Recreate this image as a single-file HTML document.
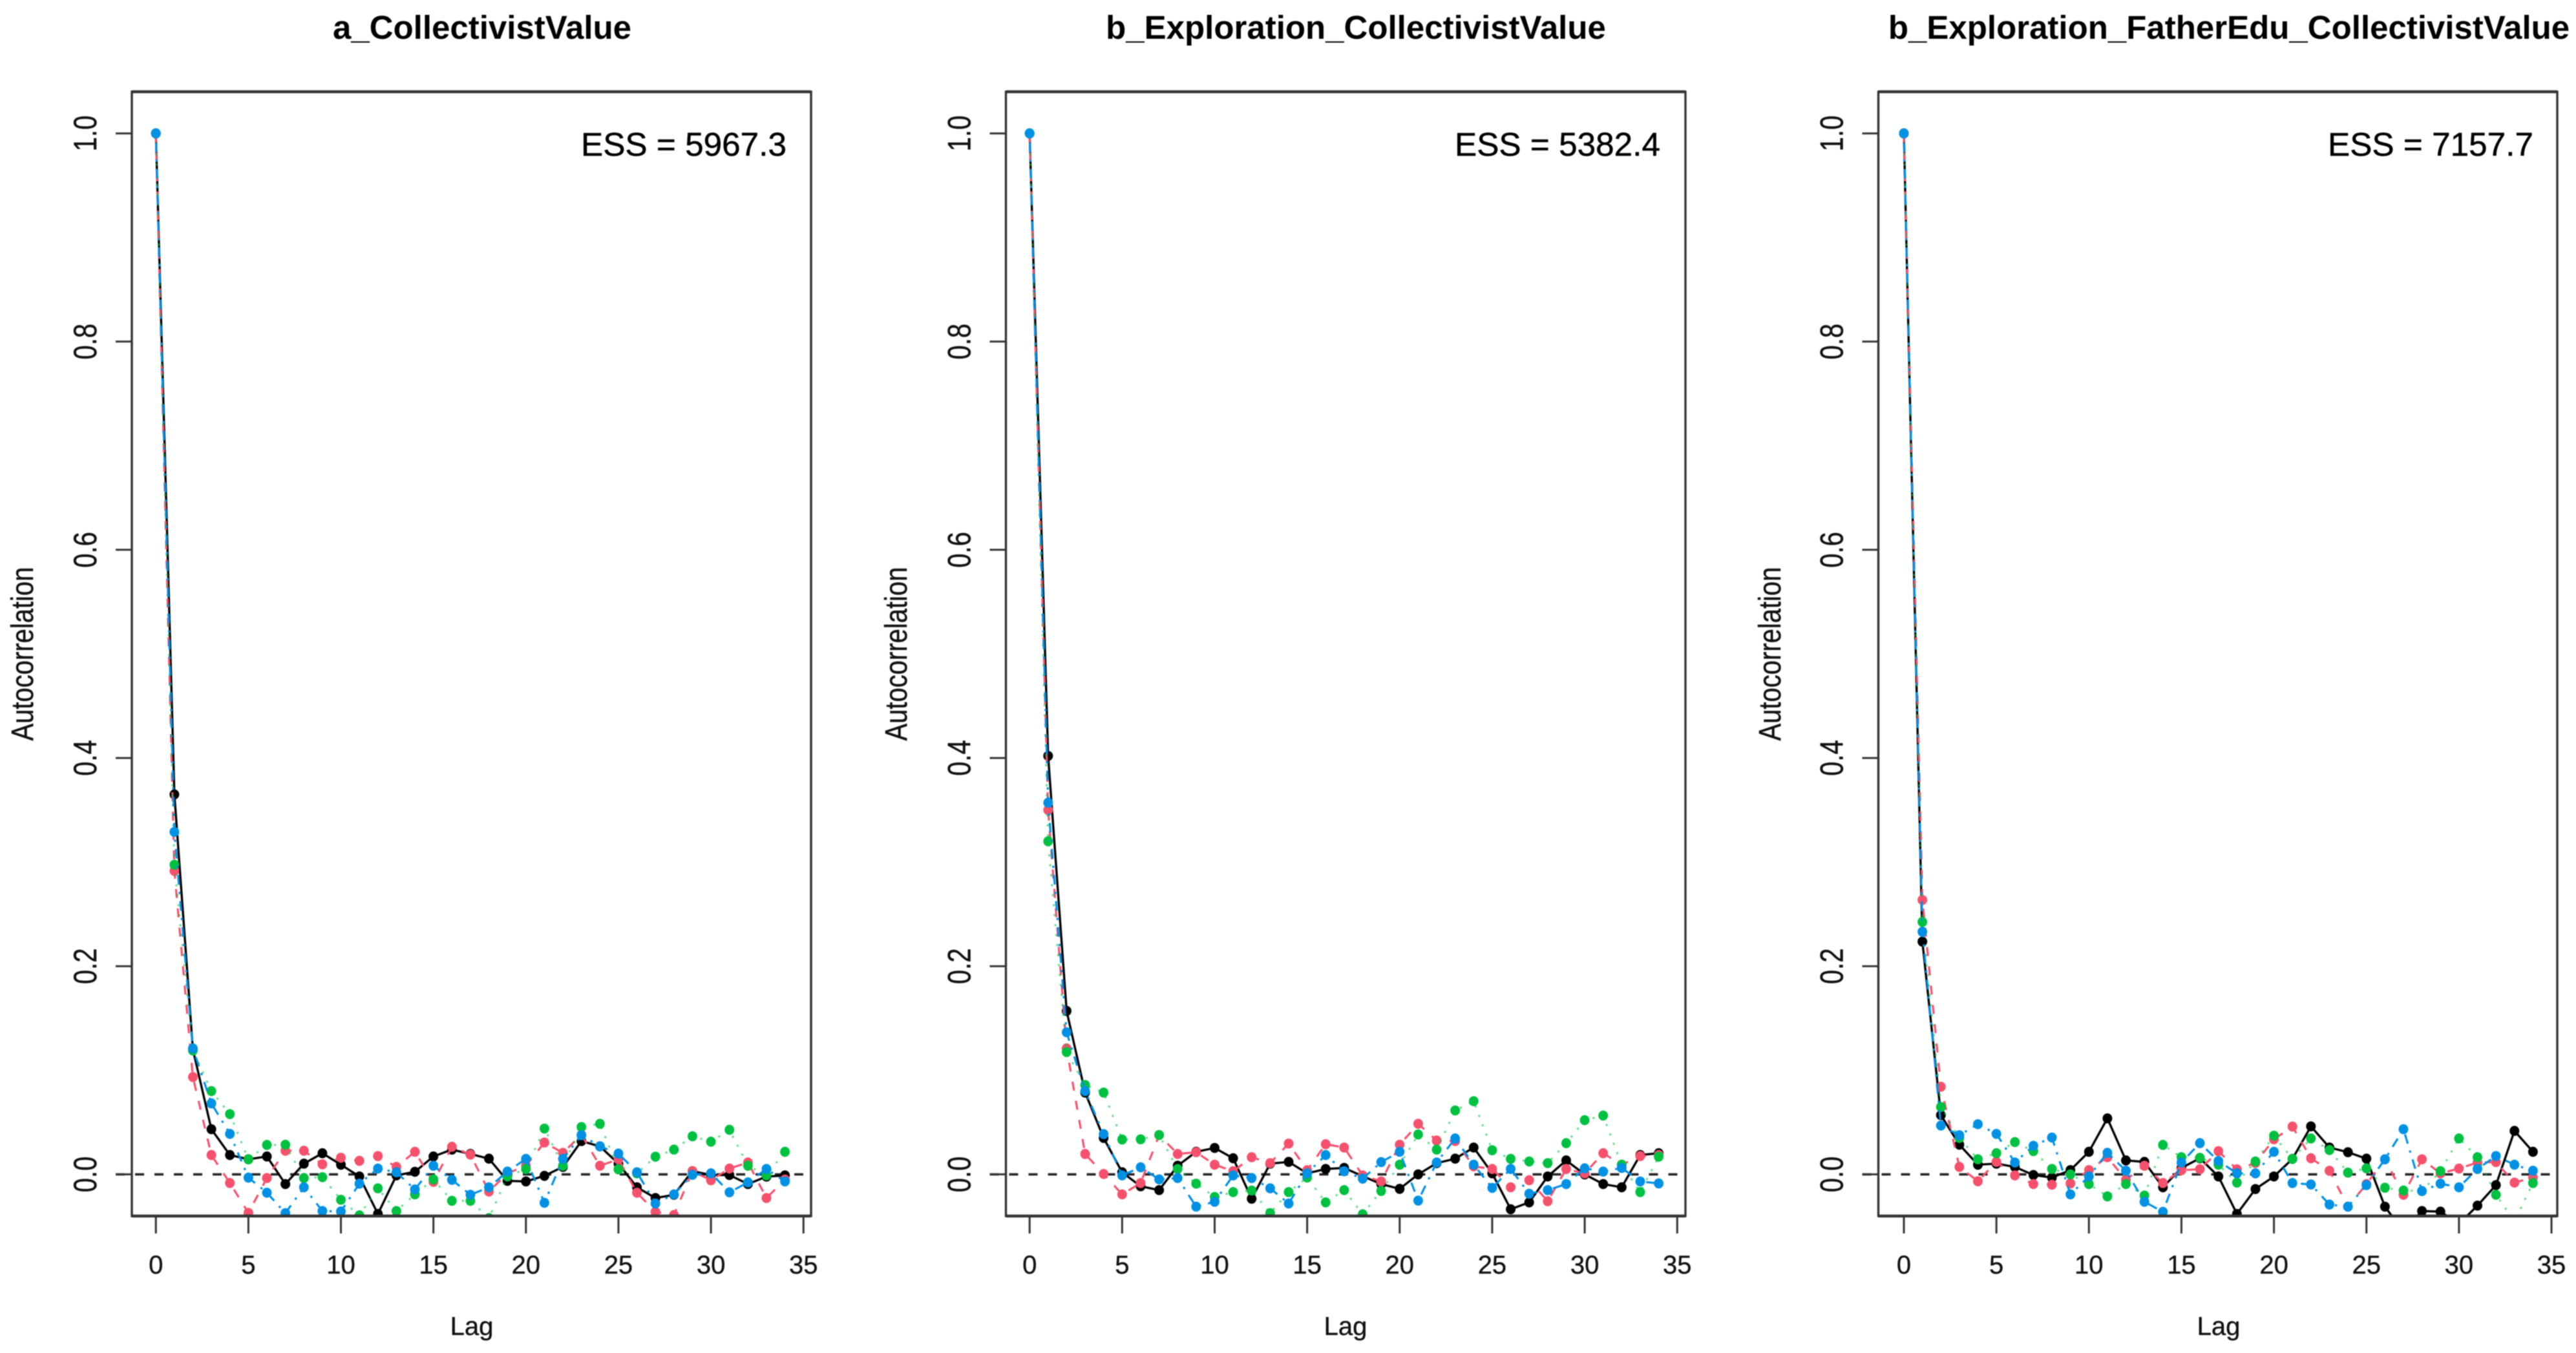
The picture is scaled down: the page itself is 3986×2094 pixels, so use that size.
<!DOCTYPE html>
<html lang="en">
<head>
<meta charset="utf-8">
<title>Autocorrelation plots</title>
<style>
  html, body { margin: 0; padding: 0; background: #ffffff; }
  body { width: 3986px; height: 2094px; overflow: hidden; }
  svg { display: block; filter: blur(0.7px); }
  text { font-family: "Liberation Sans", Arial, sans-serif; fill: #111; }
  .title { font-size: 51px; font-weight: bold; text-anchor: middle; fill: #000; }
  .ess { font-size: 51.3px; text-anchor: end; fill: #000; stroke: #000; stroke-width: 0.5px; }
  .axis-title { font-size: 40px; text-anchor: middle; fill: #111; stroke: #111; stroke-width: 0.4px; }
  .tick-label { font-size: 40px; text-anchor: middle; fill: #111; stroke: #111; stroke-width: 0.4px; }
</style>
</head>
<body>
<svg id="chart" xmlns="http://www.w3.org/2000/svg" width="3986" height="2094" viewBox="0 0 3986 2094">
  <rect x="0" y="0" width="3986" height="2094" fill="#ffffff"/>

  <text class="title" x="746" y="60">a_CollectivistValue</text>
  <text class="title" x="2098" y="60">b_Exploration_CollectivistValue</text>
  <text class="title" x="3449" y="60">b_Exploration_FatherEdu_CollectivistValue</text>

  <text class="ess" x="1217" y="241">ESS = 5967.3</text>
  <text class="ess" x="2569" y="241">ESS = 5382.4</text>
  <text class="ess" x="3920" y="241">ESS = 7157.7</text>

  <text class="axis-title" x="730" y="2066">Lag</text>
  <text class="axis-title" x="2082" y="2066">Lag</text>
  <text class="axis-title" x="3433" y="2066">Lag</text>

  <text class="axis-title" transform="translate(51,1012) rotate(-90) scale(1,1.2)">Autocorrelation</text>
  <text class="axis-title" transform="translate(1403,1012) rotate(-90) scale(1,1.2)">Autocorrelation</text>
  <text class="axis-title" transform="translate(2755,1012) rotate(-90) scale(1,1.2)">Autocorrelation</text>

  <g id="plots"></g>
</svg>

<script>
// ---- chart data: autocorrelation by lag (lags 0..34), four chains per panel ----
const xTickLabels = [0, 5, 10, 15, 20, 25, 30, 35];
const yTickLabels = ["0.0", "0.2", "0.4", "0.6", "0.8", "1.0"];
const yTickValues = [0, 0.2, 0.4, 0.6, 0.8, 1];
const chainNames = ["chain-1", "chain-2", "chain-3", "chain-4"];

const panelAChain1 = [1,.365,.12,.0434,.0186,.0145,.0172,-.0093,.0103,.0203,.0093,-.002,-.038,-.001,.0025,.0172,.0238,.0196,.0151,-.0062,-.0068,-.0014,.0072,.032,.0269,.0103,-.0124,-.0227,-.0196,.0031,-.0006,-.0006,-.0093,-.0021,-.001];
const panelAChain2 = [1,.2915,.0935,.0186,-.0083,-.037,-.0035,.0227,.0227,.0097,.016,.013,.0176,.0072,.0217,-.0072,.0265,.019,-.0165,.001,.0083,.0306,.0207,.038,.0083,.0145,-.0176,-.036,-.039,.003,-.0056,.0056,.0114,-.0227,-.005];
const panelAChain3 = [1,.2975,.119,.08,.0579,.0145,.0283,.0285,-.0035,-.0027,-.0244,-.0393,-.0134,-.0352,-.0192,-.0048,-.0254,-.0254,-.042,-.002,.0052,.044,.0083,.0455,.0486,.0048,.001,.017,.0238,.0366,.0314,.0428,.0083,-.001,.0217];
const panelAChain4 = [1,.329,.121,.0682,.0389,-.0031,-.0176,-.0372,-.0124,-.0352,-.0356,-.0089,.0056,.002,-.0145,.0083,-.0052,-.0196,-.0124,.0027,.0149,-.0273,.0149,.0376,.0269,.02,.002,-.028,-.0192,-.0004,.001,-.0172,-.0077,.0052,-.0068];

const panelBChain1 = [1,.402,.157,.0786,.035,.002,-.0114,-.0151,.0083,.0217,.0254,.0155,-.0234,.0103,.012,.001,.0052,.0062,-.0017,-.0093,-.0139,0,.0108,.0151,.0258,.001,-.0335,-.0269,-.002,.0134,0,-.0093,-.0124,.0186,.0203];
const panelBChain2 = [1,.35,.121,.0196,.0004,-.0192,-.0083,.0378,.0196,.0213,.0093,.003,.0165,.0108,.0296,.004,.029,.0258,-.001,-.0068,.0285,.0486,.0325,.032,.0077,.0052,-.0124,-.0056,-.0258,.0052,.001,.0203,.0093,.0176,.0186];
const panelBChain3 = [1,.32,.1175,.0858,.0786,.0335,.0337,.0378,.0052,-.0089,-.0217,-.017,-.0155,-.0372,-.017,-.003,-.0269,-.0151,-.0383,-.0159,.0093,.0383,.0238,.0614,.0703,.0232,.0149,.0124,.0108,.03,.0521,.0565,.0093,-.017,.017];
const panelBChain4 = [1,.357,.1365,.08,.0387,-.001,.0068,-.0048,-.0035,-.031,-.0263,-.001,-.0035,-.0134,-.028,.001,.0186,.003,-.0041,.0118,.0217,-.0252,.0114,.0345,.0093,-.013,.0052,-.0186,-.0151,-.0093,.0058,.0027,.0062,-.0068,-.0087];

const panelCChain1 = [1,.2236,.0569,.0285,.0093,.0103,.0072,-.0006,-.0031,.0041,.0217,.0538,.0134,.012,-.0124,.0062,.0155,-.002,-.038,-.0141,-.002,.0149,.0461,.0258,.0213,.0151,-.031,-.055,-.0352,-.0358,-.0476,-.03,-.0103,.0418,.0217];
const panelCChain2 = [1,.2636,.0842,.0072,-.0066,.012,-.001,-.0093,-.0099,-.0087,.0041,.0165,-.0052,.0083,-.0083,.004,.005,.0223,.0048,.011,.0337,.0459,.0155,.0035,-.031,-.0093,.0145,-.0196,.0145,.001,.0056,.0114,.0118,-.0079,-.003];
const panelCChain3 = [1,.2425,.0647,.035,.0145,.0203,.031,.0223,.0052,0,-.0093,-.0211,-.0093,-.0203,.0283,.0165,.0159,.0093,-.0079,.0124,.0372,.0149,.0345,.0234,.0017,.0058,-.0128,-.0155,-.016,.0031,.0345,.0165,-.0196,-.045,-.0083];
const panelCChain4 = [1,.233,.0469,.0376,.0482,.0389,.0114,.0275,.0354,-.0192,-.002,.0207,.0035,-.0263,-.036,.0114,.03,.0128,.001,.001,.0217,-.0083,-.0097,-.029,-.031,-.0103,.0145,.0434,-.016,-.0089,-.0124,.0052,.0176,.0093,.0035];

const panelASeries = [panelAChain1, panelAChain2, panelAChain3, panelAChain4];
const panelBSeries = [panelBChain1, panelBChain2, panelBChain3, panelBChain4];
const panelCSeries = [panelCChain1, panelCChain2, panelCChain3, panelCChain4];

// ---- layout and styling ----
const SVG_NS = "http://www.w3.org/2000/svg";
const plotTop = 142, plotBottom = 1882;
const yDomainMin = -0.04, yDomainMax = 1.04;
const xDomainMax = 35;
const lagPixels = 28.63;
const chainColors = ["#000000", "#F5506C", "#00C040", "#0090E4"];
const chainDashes = ["none", "14 16", "3.5 12", "3.5 11 15 11"];
const layoutA = { id: "a", left: 204, right: 1255, zero: 241.2, series: panelASeries };
const layoutB = { id: "b", left: 1556.5, right: 2608, zero: 1593.2, series: panelBSeries };
const layoutC = { id: "c", left: 2906.5, right: 3957, zero: 2946, series: panelCSeries };

function yScale(v) {
  return plotBottom - (v - yDomainMin) / (yDomainMax - yDomainMin) * (plotBottom - plotTop);
}
function xScale(layout, lag) {
  return layout.zero + lag / xDomainMax * (lagPixels * xDomainMax);
}
function makeEl(tag, attrs) {
  const el = document.createElementNS(SVG_NS, tag);
  for (const k in attrs) el.setAttribute(k, attrs[k]);
  return el;
}

function drawPanel(root, layout) {
  const g = makeEl("g", {});
  
  
  root.appendChild(g);

  const defs = makeEl("defs", {});
  const clip = makeEl("clipPath", { id: "clip-" + layout.id });
  clip.appendChild(makeEl("rect", { x: layout.left, y: plotTop, width: layout.right - layout.left, height: plotBottom - plotTop }));
  defs.appendChild(clip);
  g.appendChild(defs);

  // zero reference line
  const zeroLine = makeEl("line", { x1: layout.left - 25, x2: layout.right, y1: yScale(0), y2: yScale(0), stroke: "#222", "stroke-width": 3.6, "stroke-dasharray": "14 16" });
  
  
  g.appendChild(zeroLine);

  // series
  const marks = makeEl("g", { "clip-path": "url(#clip-" + layout.id + ")" });
  
  
  g.appendChild(marks);

  layout.series.forEach(function (values, s) {
    const pts = values.map(function (v, lag) { return xScale(layout, lag).toFixed(2) + "," + yScale(v).toFixed(2); }).join(" ");
    const attrs = { points: pts, fill: "none", stroke: chainColors[s], "stroke-width": s === 0 ? 3.4 : 3.2 };
    if (chainDashes[s] !== "none") attrs["stroke-dasharray"] = chainDashes[s];
    if (s === 2) attrs["stroke-opacity"] = 0.55;
    const line = makeEl("polyline", attrs);
    
    
    marks.appendChild(line);
    values.forEach(function (v, lag) {
      const dot = makeEl("ellipse", { cx: xScale(layout, lag), cy: yScale(v), rx: 7.5, ry: 7.8, fill: chainColors[s] });
      
      
      marks.appendChild(dot);
    });
  });

  // plot box
  const box = makeEl("rect", { x: layout.left, y: plotTop, width: layout.right - layout.left, height: plotBottom - plotTop, fill: "none", stroke: "#333", "stroke-width": 3.4 });
  
  
  g.appendChild(box);
  const thickTop = makeEl("line", { x1: layout.left, x2: layout.right, y1: plotTop, y2: plotTop, stroke: "#333", "stroke-width": 4.5 });
  
  
  g.appendChild(thickTop);
  const thickBottom = makeEl("line", { x1: layout.left, x2: layout.right, y1: plotBottom, y2: plotBottom, stroke: "#333", "stroke-width": 4.5 });
  
  
  g.appendChild(thickBottom);

  // x axis
  xTickLabels.forEach(function (t) {
    const x = xScale(layout, t);
    const tick = makeEl("line", { x1: x, x2: x, y1: plotBottom, y2: plotBottom + 27, stroke: "#333", "stroke-width": 3 });
    
    
    g.appendChild(tick);
    const label = makeEl("text", { x: x, y: 1971, class: "tick-label" });
    
    
    label.textContent = String(t);
    g.appendChild(label);
  });

  // y axis
  yTickValues.forEach(function (v, i) {
    const y = yScale(v);
    const tick = makeEl("line", { x1: layout.left - 25, x2: layout.left, y1: y, y2: y, stroke: "#333", "stroke-width": 3 });
    
    
    g.appendChild(tick);
    const label = makeEl("text", { class: "tick-label", transform: "translate(" + (layout.left - 55) + "," + y + ") rotate(-90) scale(1,1.25)" });
    
    
    label.textContent = yTickLabels[i];
    g.appendChild(label);
  });
}

const plotsRoot = document.getElementById("plots");
drawPanel(plotsRoot, layoutA);
drawPanel(plotsRoot, layoutB);
drawPanel(plotsRoot, layoutC);
</script>
</body>
</html>
